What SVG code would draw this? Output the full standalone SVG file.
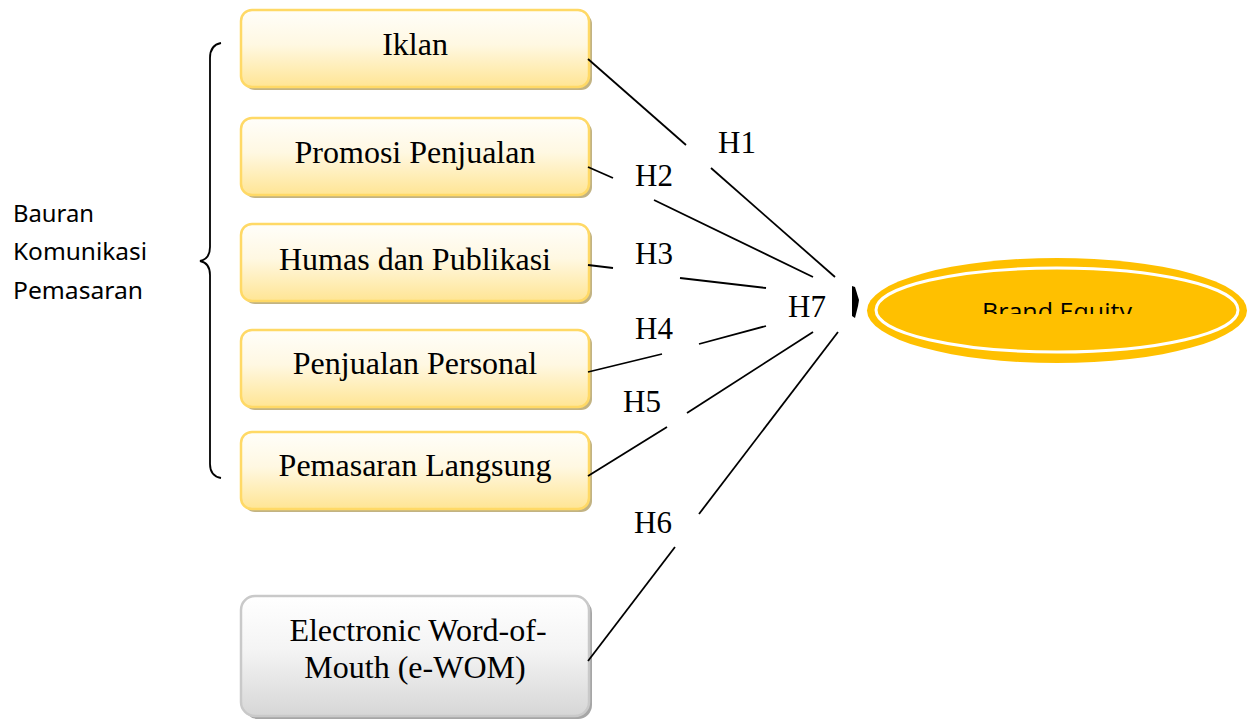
<svg xmlns="http://www.w3.org/2000/svg" width="1250" height="720" viewBox="0 0 1250 720">
<defs>
<linearGradient id="gy" x1="0" y1="0" x2="0" y2="1">
<stop offset="0" stop-color="#FFFEFA"/>
<stop offset="0.45" stop-color="#FFF8E2"/>
<stop offset="1" stop-color="#FFE594"/>
</linearGradient>
<linearGradient id="gg" x1="0" y1="0" x2="0" y2="1">
<stop offset="0" stop-color="#FFFFFF"/>
<stop offset="0.45" stop-color="#F4F4F4"/>
<stop offset="1" stop-color="#D6D6D6"/>
</linearGradient>
<clipPath id="clipBE"><rect x="900" y="290" width="300" height="24"/></clipPath>
</defs>
<style>
.shadow{fill:#C2B383}
.shadowg{fill:#A6A6A6}
.box{fill:url(#gy);stroke:#FFD966;stroke-width:2.5}
.boxg{fill:url(#gg);stroke:#C9C9C9;stroke-width:2.5}
.t{font-family:"Liberation Serif","Times New Roman",serif;font-size:32px;fill:#000;text-anchor:middle}
.h{font-family:"Liberation Serif","Times New Roman",serif;font-size:31px;fill:#000}
.s{font-family:"Noto Sans","Open Sans",sans-serif;font-size:23px;fill:#000}
.ln{stroke:#000;stroke-width:1.8;fill:none}
</style>
<rect width="1250" height="720" fill="#FFFFFF"/>

<g id="bracket-label">
<text class="s" x="13" y="222" textLength="81" lengthAdjust="spacingAndGlyphs">Bauran</text>
<text class="s" x="13" y="260" textLength="134" lengthAdjust="spacingAndGlyphs">Komunikasi</text>
<text class="s" x="13" y="299" textLength="130" lengthAdjust="spacingAndGlyphs">Pemasaran</text>
<path class="ln" d="M221,43 Q210,45 210,58 L210,247 Q210,259 200,261 Q210,263 210,275 L210,464 Q210,476 221,478"/>
</g>

<g id="node-iklan">
<rect class="shadow" x="244" y="13" width="348" height="77" rx="11"/>
<rect class="box" x="241" y="10" width="348" height="77" rx="11"/>
<text class="t" x="415" y="55">Iklan</text>
</g>
<g id="node-promosi">
<rect class="shadow" x="244" y="121" width="348" height="77" rx="11"/>
<rect class="box" x="241" y="118" width="348" height="77" rx="11"/>
<text class="t" x="415" y="163">Promosi Penjualan</text>
</g>
<g id="node-humas">
<rect class="shadow" x="244" y="227" width="348" height="77" rx="11"/>
<rect class="box" x="241" y="224" width="348" height="77" rx="11"/>
<text class="t" x="415" y="270">Humas dan Publikasi</text>
</g>
<g id="node-personal">
<rect class="shadow" x="244" y="333" width="348" height="77" rx="11"/>
<rect class="box" x="241" y="330" width="348" height="77" rx="11"/>
<text class="t" x="415" y="374">Penjualan Personal</text>
</g>
<g id="node-langsung">
<rect class="shadow" x="244" y="435" width="348" height="77" rx="11"/>
<rect class="box" x="241" y="432" width="348" height="77" rx="11"/>
<text class="t" x="415" y="476">Pemasaran Langsung</text>
</g>
<g id="node-ewom">
<rect class="shadowg" x="244" y="599" width="348" height="120" rx="14"/>
<rect class="boxg" x="241" y="596" width="348" height="120" rx="14"/>
<text class="t" x="418" y="641">Electronic Word-of-</text>
<text class="t" x="415" y="678">Mouth (e-WOM)</text>
</g>

<g id="node-brand-equity">
<ellipse cx="1057" cy="310.5" rx="190" ry="52.5" fill="#FFC000"/>
<ellipse cx="1057" cy="310" rx="181" ry="42" fill="none" stroke="#FFFFFF" stroke-width="3"/>
<text x="982" y="320" clip-path="url(#clipBE)" font-family="Open Sans, Noto Sans, sans-serif" font-size="23" fill="#000" textLength="150" lengthAdjust="spacingAndGlyphs">Brand Equity</text>
</g>

<g id="connectors">
<line class="ln" x1="588" y1="59" x2="686" y2="145"/>
<line class="ln" x1="711" y1="168" x2="835" y2="277"/>
<line class="ln" x1="588" y1="167" x2="613" y2="178"/>
<line class="ln" x1="654" y1="200" x2="813" y2="277"/>
<line class="ln" x1="588" y1="265" x2="613" y2="268"/>
<line class="ln" x1="680" y1="278" x2="766" y2="288"/>
<line class="ln" x1="588" y1="372" x2="662" y2="354"/>
<line class="ln" x1="699" y1="344" x2="766" y2="326"/>
<line class="ln" x1="588" y1="476" x2="667" y2="427"/>
<line class="ln" x1="687" y1="413" x2="813" y2="332"/>
<line class="ln" x1="588" y1="661" x2="675" y2="547"/>
<line class="ln" x1="699" y1="514" x2="838" y2="332"/>
<polygon points="852,286 855,287 859,300 858,306 855,318 852,316" fill="#000"/>
</g>

<g id="labels">
<text class="h" x="718" y="153">H1</text>
<text class="h" x="635" y="186">H2</text>
<text class="h" x="635" y="264">H3</text>
<text class="h" x="635" y="339">H4</text>
<text class="h" x="623" y="412">H5</text>
<text class="h" x="634" y="533">H6</text>
<text class="h" x="788" y="317">H7</text>
</g>
</svg>
